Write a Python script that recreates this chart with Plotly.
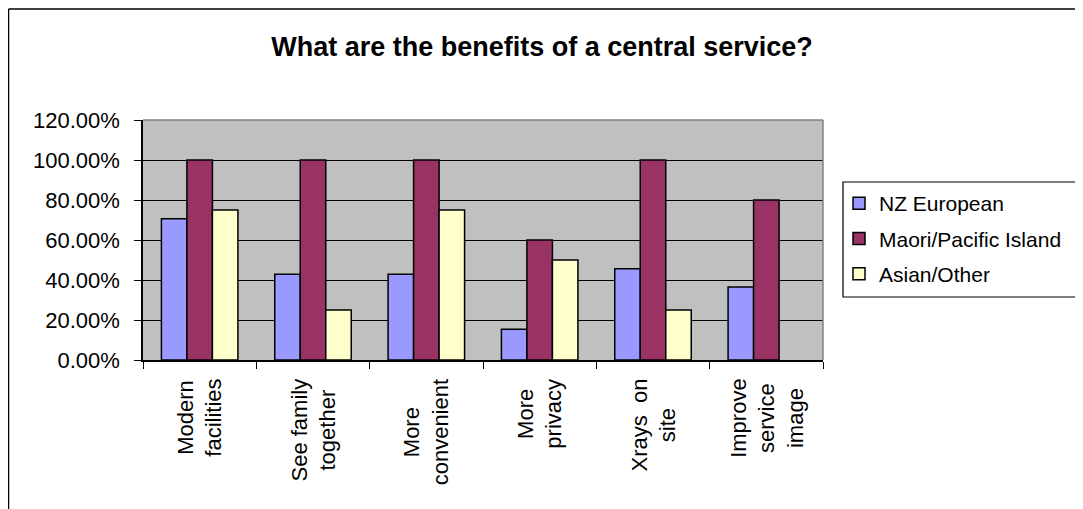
import plotly.graph_objects as go

categories = ["Modern facilities", "See family together", "More convenient",
              "More privacy", "Xrays on site", "Improve service image"]
category_labels = ["Modern<br>facilities", "See family<br>together", "More<br>convenient",
                   "More<br>privacy", "Xrays  on<br>site", "Improve<br>service<br>image"]
series_names = ["NZ European", "Maori/Pacific Island", "Asian/Other"]
nz_european = [0.706, 0.429, 0.429, 0.154, 0.456, 0.365]
maori_pacific = [1.00, 1.00, 1.00, 0.60, 1.00, 0.80]
asian_other = [0.75, 0.25, 0.75, 0.50, 0.25, None]
y_tick_values = [0.0, 0.2, 0.4, 0.6, 0.8, 1.0, 1.2]
y_tick_labels = ["0.00%", "20.00%", "40.00%", "60.00%", "80.00%", "100.00%", "120.00%"]
colors = ["#9999FF", "#993366", "#FFFFCC"]

FONT = "Arial, Liberation Sans, sans-serif"
W, H = 1083, 509
OFF = 8  # page body margin
L, T = 135, 112
pw, ph = 680, 240
R, B = W - L - pw, H - T - ph

fig = go.Figure()
for name, vals, col in zip(series_names, [nz_european, maori_pacific, asian_other], colors):
    fig.add_trace(go.Bar(
        x=categories, y=vals, name=name, legendgroup=name,
        marker=dict(color=col, line=dict(color="#000000", width=1.5)),
    ))

def px_x(px):
    return (px - OFF - L) / pw

def px_y(py):
    return 1 - (py - OFF - T) / ph

annotations = []
for cat, lab in zip(categories, category_labels):
    annotations.append(dict(
        x=cat, xref="x", y=px_y(377), yref="paper", text=lab, showarrow=False,
        textangle=-90, xanchor="center", yanchor="top", align="center",
        font=dict(family=FONT, size=22, color="#000000"),
    ))

shapes = [
    dict(type="line", xref="paper", yref="paper", x0=0, x1=1, y0=1, y1=1,
         line=dict(color="#808080", width=1.5), layer="above"),
    dict(type="line", xref="paper", yref="paper", x0=1, x1=1, y0=0, y1=1,
         line=dict(color="#808080", width=1.5), layer="above"),
    dict(type="line", xref="paper", yref="paper", x0=px_x(8.5), x1=px_x(8.5), y0=px_y(9), y1=px_y(600),
         line=dict(color="#000000", width=1.5)),
    dict(type="line", xref="paper", yref="paper", x0=px_x(8.5), x1=px_x(1150), y0=px_y(9), y1=px_y(9),
         line=dict(color="#000000", width=1.5)),
    # legend frame (runs off the right edge as in the reference)
    dict(type="rect", xref="paper", yref="paper", x0=px_x(843), x1=px_x(1150),
         y0=px_y(297), y1=px_y(182), fillcolor="#FFFFFF",
         line=dict(color="#000000", width=1.2), layer="above"),
]

fig.update_layout(
    width=W, height=H,
    margin=dict(l=L, r=R, t=T, b=B, autoexpand=False),
    paper_bgcolor="#FFFFFF", plot_bgcolor="#C0C0C0",
    font=dict(family=FONT, size=22, color="#000000"),
    title=dict(text="<b>What are the benefits of a central service?</b>",
               x=(542 - OFF) / W, xanchor="center", xref="container",
               y=1 - (47 - OFF) / H, yanchor="middle", yref="container",
               font=dict(family=FONT, size=27, color="#000000")),
    barmode="group", bargap=0.325, bargroupgap=0,
    showlegend=True,
    legend=dict(x=px_x(839), xanchor="left", y=px_y(183), yanchor="top",
                bgcolor="rgba(0,0,0,0)", borderwidth=0,
                font=dict(family=FONT, size=21, color="#000000"),
                traceorder="grouped", tracegroupgap=5),
    annotations=annotations,
    shapes=shapes,
)
fig.update_xaxes(showticklabels=False, showline=True, linecolor="#000000", linewidth=1.5,
                 ticks="outside", ticklen=7, tickcolor="#000000", tickson="boundaries",
                 showgrid=False, zeroline=False)
fig.update_yaxes(range=[0, 1.2], tickvals=y_tick_values, ticktext=y_tick_labels,
                 showline=True, linecolor="#000000", linewidth=1.5,
                 ticks="outside", ticklen=7, tickcolor="#000000", ticklabelstandoff=10,
                 showgrid=True, gridcolor="#000000", gridwidth=1, zeroline=False,
                 tickfont=dict(family=FONT, size=22, color="#000000"))

fig.write_html("out.html")
